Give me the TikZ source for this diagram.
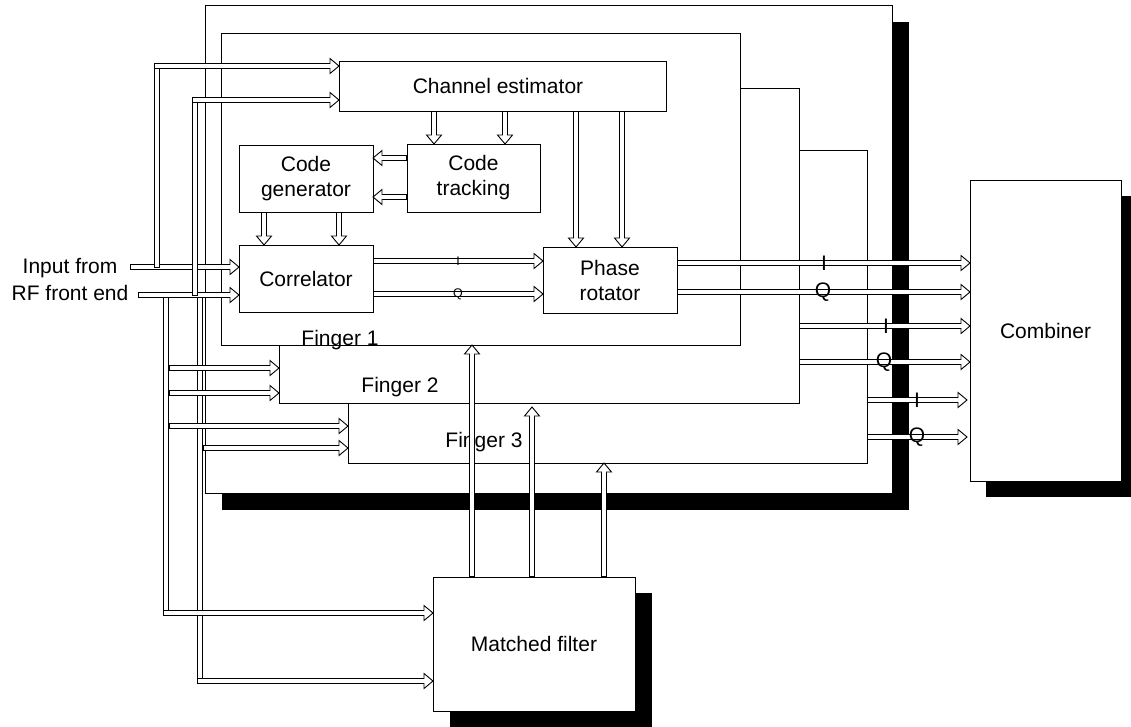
\documentclass[tikz,border=0pt]{standalone}
\usepackage{fontspec}
\setmainfont{Liberation Sans}
\usetikzlibrary{calc,backgrounds}
\newcommand\blkarrow[2]{%
  \path #1 coordinate (baS) #2 coordinate (baE);
  \coordinate (baB) at ($(baE)!9pt!(baS)$);
  \draw[line width=6pt] (baS) -- (baB);
  \draw[white,line width=4pt] ($(baS)!1pt!(baE)$) -- (baB);
  \draw[fill=white,line width=0.9pt,line join=miter] ($(baB)!7.5pt!90:(baE)$) -- (baE) -- ($(baB)!7.5pt!-90:(baE)$) -- cycle;
  \draw[white,line width=4pt] ($(baB)!1pt!(baS)$) -- ($(baB)!0.7pt!(baE)$);
}
\newcommand\blkshaft[2]{%
  \path #1 coordinate (bsS) #2 coordinate (bsE);
  \draw[line width=6pt] (bsS) -- (bsE);
  \draw[white,line width=4pt] ($(bsS)!1pt!(bsE)$) -- ($(bsE)!1pt!(bsS)$);
}
\tikzset{
  box/.style={draw, line width=0.9pt, fill=white, inner sep=0pt, outer sep=0pt, align=center, font=\fontsize{21}{25}\selectfont},
  lbl/.style={inner sep=0pt, outer sep=0pt, font=\fontsize{21}{25}\selectfont},
  smalllbl/.style={inner sep=0pt, outer sep=0pt, font=\fontsize{12.5}{14}\selectfont},
}
\begin{document}
\begin{tikzpicture}[x=1pt,y=-1pt]
\useasboundingbox (0,0) rectangle (1131,726);
% boxes
\node[box, minimum width=687pt, minimum height=488pt] (outer) at (548.5,249) {};
\node[box, minimum width=519pt, minimum height=313pt] (fin3) at (607.5,306.5) {};
\node[box, minimum width=520pt, minimum height=315pt] (fin2) at (539,245.5) {};
\node[box, minimum width=519pt, minimum height=312pt] (fin1) at (480.5,189) {};
\node[box, minimum width=327pt, minimum height=50pt] (chest) at (502.5,86) {};
\node[lbl] (chestlbl) at (498,86) {Channel estimator};
\node[box, minimum width=134pt, minimum height=67pt] (cgen) at (306,178.5) {Code\\generator};
\node[box, minimum width=133pt, minimum height=68pt] (ctrk) at (473.5,178) {Code\\tracking};
\node[box, minimum width=134pt, minimum height=67pt] (corr) at (306,278.5) {Correlator};
\node[box, minimum width=134pt, minimum height=66pt] (phrot) at (610,280) {Phase\\rotator};
\node[box, minimum width=151pt, minimum height=301pt] (comb) at (1045.5,330.5) {Combiner};
\node[box, minimum width=202pt, minimum height=134pt] (mf) at (534,644) {Matched filter};
% shadows
\begin{scope}[on background layer]
\fill ($(outer.north west)+(17,17)$) rectangle ($(outer.south east)+(17,17)$);
\fill ($(comb.north west)+(16,16)$) rectangle ($(comb.south east)+(16,16)$);
\fill ($(mf.north west)+(17,16)$) rectangle ($(mf.south east)+(17,17)$);
\end{scope}
% labels
\node[lbl, anchor=base] (lf1) at (340,345) {Finger 1};
\node[lbl, anchor=base] (lf2) at (400,392) {Finger 2};
\node[lbl, anchor=base] (lf3) at (484,447) {Finger 3};
\node[lbl, align=center, font=\fontsize{21}{27}\selectfont] (inp) at (70,279) {Input from\\RF front end};
% free ends and corners
\coordinate (in1) at (130,267);
\coordinate (in2) at (138,295);
\coordinate (up1) at (157,66);
\coordinate (up2) at (195,100);
\coordinate (dn1) at (166,613);
\coordinate (dn2) at (200,681);
\coordinate (f2a) at (169,368);
\coordinate (f2b) at (169,393);
\coordinate (f3a) at (169,426);
\coordinate (f3b) at (203,448);
\coordinate (ct1) at ($(ctrk.north west)+(27,0)$);
\coordinate (ct2) at ($(ctrk.north west)+(98,0)$);
\coordinate (pr1) at ($(phrot.north west)+(33,0)$);
\coordinate (pr2) at ($(phrot.north west)+(79,0)$);
\coordinate (cg1) at ($(ctrk.north west)+(0,14)$);
\coordinate (cg2) at ($(ctrk.north west)+(0,53)$);
\coordinate (co1) at ($(cgen.south west)+(25,0)$);
\coordinate (co2) at ($(cgen.south west)+(100,0)$);
\coordinate (ci) at ($(corr.north east)+(0,16)$);
\coordinate (cq) at ($(corr.north east)+(0,49)$);
\coordinate (pi) at ($(phrot.north east)+(0,16)$);
\coordinate (pq) at ($(phrot.north east)+(0,45)$);
\coordinate (f2i) at ($(fin2.north east)+(0,238)$);
\coordinate (f2q) at ($(fin2.north east)+(0,274)$);
\coordinate (f3i) at ($(fin3.north east)+(0,250)$);
\coordinate (f3q) at ($(fin3.north east)+(0,287)$);
\coordinate (m1) at ($(mf.north west)+(39,0)$);
\coordinate (m2) at ($(mf.north west)+(99,0)$);
\coordinate (m3) at ($(mf.north west)+(171,0)$);
% input arrows
\blkarrow{(in1)}{(in1 -| corr.west)}
\blkarrow{(in2)}{(in2 -| corr.west)}
\blkshaft{($(in1 -| up1)+(0,1)$)}{($(up1)+(0,-3)$)}
\blkarrow{($(up1)+(-3,0)$)}{(up1 -| chest.west)}
\blkshaft{($(in2 -| up2)+(0,1)$)}{($(up2)+(0,-3)$)}
\blkarrow{($(up2)+(-3,0)$)}{(up2 -| chest.west)}
\blkshaft{($(in2 -| dn1)+(0,2)$)}{($(dn1)+(0,3)$)}
\blkshaft{($(in2 -| dn2)+(0,2)$)}{($(dn2)+(0,3)$)}
\blkarrow{($(dn1)+(-3,0)$)}{(dn1 -| mf.west)}
\blkarrow{($(dn2)+(-3,0)$)}{(dn2 -| mf.west)}
\blkarrow{(f2a)}{(f2a -| fin2.west)}
\blkarrow{(f2b)}{(f2b -| fin2.west)}
\blkarrow{(f3a)}{(f3a -| fin3.west)}
\blkarrow{(f3b)}{(f3b -| fin3.west)}
% internal arrows
\blkarrow{(chest.south -| ct1)}{(ct1)}
\blkarrow{(chest.south -| ct2)}{(ct2)}
\blkarrow{(chest.south -| pr1)}{(pr1)}
\blkarrow{(chest.south -| pr2)}{(pr2)}
\blkarrow{(cg1)}{(cg1 -| cgen.east)}
\blkarrow{(cg2)}{(cg2 -| cgen.east)}
\blkarrow{(co1)}{(co1 |- corr.north)}
\blkarrow{(co2)}{(co2 |- corr.north)}
\blkarrow{(ci)}{(ci -| phrot.west)}
\blkarrow{(cq)}{(cq -| phrot.west)}
% outputs
\blkarrow{(pi)}{(pi -| comb.west)}
\blkarrow{(pq)}{(pq -| comb.west)}
\blkarrow{(f2i)}{(f2i -| comb.west)}
\blkarrow{(f2q)}{(f2q -| comb.west)}
\blkarrow{(f3i)}{($(f3i -| comb.west)+(-3,0)$)}
\blkarrow{(f3q)}{($(f3q -| comb.west)+(-3,0)$)}
% matched filter
\blkarrow{(m1)}{(m1 |- fin1.south)}
\blkarrow{(m2)}{($(m2 |- fin2.south)+(0,4)$)}
\blkarrow{(m3)}{(m3 |- fin3.south)}
% I/Q labels
\node[smalllbl] (lci) at ($(ci)+(85,0)$) {I};
\node[smalllbl] (lcq) at ($(cq)+(85,0)$) {Q};
\node[lbl] (lpi) at ($(pi)+(147,0)$) {I};
\node[lbl] (lpq) at ($(pq)+(146,0)$) {Q};
\node[lbl] (l2i) at ($(f2i)+(87,0)$) {I};
\node[lbl] (l2q) at ($(f2q)+(85,0)$) {Q};
\node[lbl] (l3i) at ($(f3i)+(50,0)$) {I};
\node[lbl] (l3q) at ($(f3q)+(50,0)$) {Q};
\end{tikzpicture}
\end{document}
